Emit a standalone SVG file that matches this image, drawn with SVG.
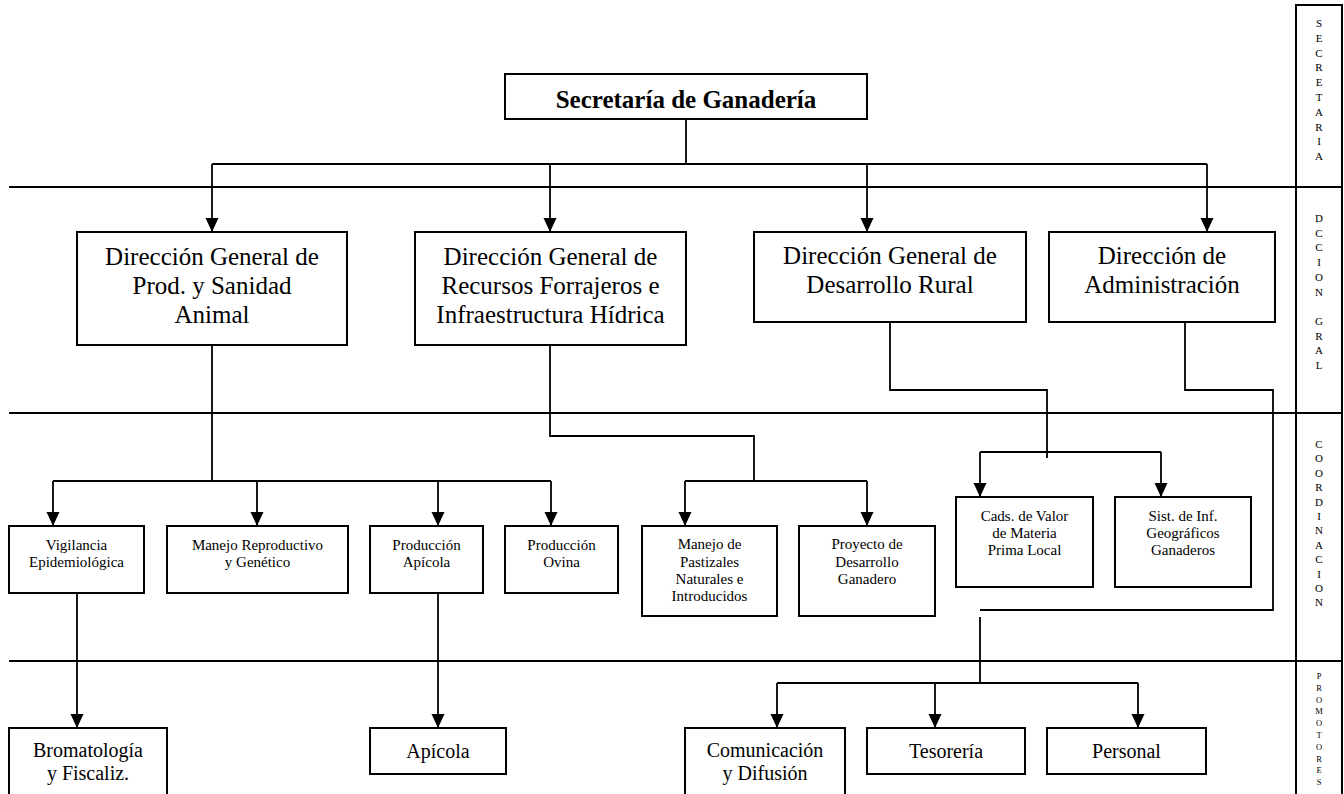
<svg xmlns="http://www.w3.org/2000/svg" width="1344" height="794" viewBox="0 0 1344 794">
<style>
.box{fill:#fff;stroke:#000;stroke-width:2}
.band{stroke:#000;stroke-width:2;fill:none}
.con{stroke:#000;stroke-width:1.8;fill:none}
.arr{marker-end:url(#ah)}
text{font-family:"Liberation Serif","Times New Roman",serif;fill:#000;text-anchor:middle}
.t25{font-size:25px}
.t20{font-size:20px}
.t15{font-size:15px}
.title{font-size:25px;font-weight:bold}
.col{font-size:11px}
.col8{font-size:8.5px}
</style>
<defs>
<marker id="ah" viewBox="0 -7 14 14" refX="14" refY="0" markerWidth="14" markerHeight="14" markerUnits="userSpaceOnUse" orient="auto">
<path d="M0,-6.5 L14,0 L0,6.5 z" fill="#000"/>
</marker>
</defs>
<rect width="1344" height="794" fill="#fff"/>

<g id="bands">
<line class="band" x1="9" y1="187" x2="1342" y2="187"/>
<line class="band" x1="9" y1="413" x2="1342" y2="413"/>
<line class="band" x1="9" y1="661" x2="1342" y2="661"/>
<path class="band" d="M1296,794 V5 H1342 V794"/>
</g>

<g id="levels">
<text class="col"><tspan x="1319" y="27">S</tspan><tspan x="1319" y="41.8">E</tspan><tspan x="1319" y="56.6">C</tspan><tspan x="1319" y="71.4">R</tspan><tspan x="1319" y="86.2">E</tspan><tspan x="1319" y="101">T</tspan><tspan x="1319" y="115.8">A</tspan><tspan x="1319" y="130.6">R</tspan><tspan x="1319" y="145.4">I</tspan><tspan x="1319" y="160.2">A</tspan></text>
<text class="col"><tspan x="1319" y="222">D</tspan><tspan x="1319" y="236.7">C</tspan><tspan x="1319" y="251.4">C</tspan><tspan x="1319" y="266.1">I</tspan><tspan x="1319" y="280.8">O</tspan><tspan x="1319" y="295.5">N</tspan><tspan x="1319" y="324.9">G</tspan><tspan x="1319" y="339.6">R</tspan><tspan x="1319" y="354.3">A</tspan><tspan x="1319" y="369">L</tspan></text>
<text class="col"><tspan x="1319" y="448">C</tspan><tspan x="1319" y="462.4">O</tspan><tspan x="1319" y="476.8">O</tspan><tspan x="1319" y="491.2">R</tspan><tspan x="1319" y="505.6">D</tspan><tspan x="1319" y="520">I</tspan><tspan x="1319" y="534.4">N</tspan><tspan x="1319" y="548.8">A</tspan><tspan x="1319" y="563.2">C</tspan><tspan x="1319" y="577.6">I</tspan><tspan x="1319" y="592">O</tspan><tspan x="1319" y="606.4">N</tspan></text>
<text class="col8"><tspan x="1319" y="679">P</tspan><tspan x="1319" y="690.8">R</tspan><tspan x="1319" y="702.6">O</tspan><tspan x="1319" y="714.4">M</tspan><tspan x="1319" y="726.2">O</tspan><tspan x="1319" y="738">T</tspan><tspan x="1319" y="749.8">O</tspan><tspan x="1319" y="761.6">R</tspan><tspan x="1319" y="773.4">E</tspan><tspan x="1319" y="785.2">S</tspan></text>
</g>

<g id="connectors">
<path class="con" d="M686,119 V164 M212,164 H1207"/>
<path class="con arr" d="M212,164 V232"/>
<path class="con arr" d="M550,164 V232"/>
<path class="con arr" d="M867,164 V232"/>
<path class="con arr" d="M1207,164 V232"/>

<path class="con" d="M212,345 V481 M53,481 H551"/>
<path class="con arr" d="M53,481 V526"/>
<path class="con arr" d="M257,481 V526"/>
<path class="con arr" d="M438,481 V526"/>
<path class="con arr" d="M551,481 V526"/>
<path class="con arr" d="M77,593 V728"/>
<path class="con arr" d="M438,593 V728"/>

<path class="con" d="M550,345 V436 H754 V481 M685,481 H867"/>
<path class="con arr" d="M685,481 V526"/>
<path class="con arr" d="M867,481 V526"/>

<path class="con" d="M890,322 V390 H1047 V458 M980,452 H1161"/>
<path class="con arr" d="M980,452 V497"/>
<path class="con arr" d="M1161,452 V497"/>

<path class="con" d="M1185,322 V390 H1273 V610 H980 M980,617 V683 M777,683 H1138"/>
<path class="con arr" d="M777,683 V728"/>
<path class="con arr" d="M935,683 V728"/>
<path class="con arr" d="M1138,683 V728"/>
</g>

<g id="secretaria">
<rect class="box" x="505" y="74" width="362" height="45"/>
<text class="title" x="686" y="108">Secretaría de Ganadería</text>
</g>

<g id="dg-prod-sanidad">
<rect class="box" x="77" y="232" width="270" height="113"/>
<text class="t25" x="212" y="265">Dirección General de</text>
<text class="t25" x="212" y="294">Prod. y Sanidad</text>
<text class="t25" x="212" y="323">Animal</text>
</g>

<g id="dg-recursos">
<rect class="box" x="415" y="232" width="271" height="113"/>
<text class="t25" x="550.5" y="265">Dirección General de</text>
<text class="t25" x="550.5" y="294">Recursos Forrajeros e</text>
<text class="t25" x="550.5" y="323">Infraestructura Hídrica</text>
</g>

<g id="dg-desarrollo">
<rect class="box" x="754" y="232" width="272" height="90"/>
<text class="t25" x="890" y="264">Dirección General de</text>
<text class="t25" x="890" y="293">Desarrollo Rural</text>
</g>

<g id="d-administracion">
<rect class="box" x="1049" y="232" width="226" height="90"/>
<text class="t25" x="1162" y="264">Dirección de</text>
<text class="t25" x="1162" y="293">Administración</text>
</g>

<g id="vigilancia">
<rect class="box" x="9" y="526" width="135" height="67"/>
<text class="t15" x="76.5" y="550">Vigilancia</text>
<text class="t15" x="76.5" y="567">Epidemiológica</text>
</g>

<g id="manejo-reproductivo">
<rect class="box" x="167" y="526" width="181" height="67"/>
<text class="t15" x="257.5" y="550">Manejo Reproductivo</text>
<text class="t15" x="257.5" y="567">y Genético</text>
</g>

<g id="produccion-apicola">
<rect class="box" x="370" y="526" width="113" height="67"/>
<text class="t15" x="426.5" y="550">Producción</text>
<text class="t15" x="426.5" y="567">Apícola</text>
</g>

<g id="produccion-ovina">
<rect class="box" x="505" y="526" width="113" height="67"/>
<text class="t15" x="561.5" y="550">Producción</text>
<text class="t15" x="561.5" y="567">Ovina</text>
</g>

<g id="manejo-pastizales">
<rect class="box" x="642" y="526" width="135" height="90"/>
<text class="t15" x="709.5" y="549">Manejo de</text>
<text class="t15" x="709.5" y="567">Pastizales</text>
<text class="t15" x="709.5" y="584">Naturales e</text>
<text class="t15" x="709.5" y="601">Introducidos</text>
</g>

<g id="proyecto-desarrollo">
<rect class="box" x="799" y="526" width="136" height="90"/>
<text class="t15" x="867" y="549">Proyecto de</text>
<text class="t15" x="867" y="567">Desarrollo</text>
<text class="t15" x="867" y="584">Ganadero</text>
</g>

<g id="cadenas-valor">
<rect class="box" x="956" y="497" width="137" height="90"/>
<text class="t15" x="1024.5" y="521">Cads. de Valor</text>
<text class="t15" x="1024.5" y="538">de Materia</text>
<text class="t15" x="1024.5" y="555">Prima Local</text>
</g>

<g id="sist-informacion">
<rect class="box" x="1115" y="497" width="136" height="90"/>
<text class="t15" x="1183" y="521">Sist. de Inf.</text>
<text class="t15" x="1183" y="538">Geográficos</text>
<text class="t15" x="1183" y="555">Ganaderos</text>
</g>

<g id="bromatologia">
<rect class="box" x="9" y="728" width="158" height="80"/>
<text class="t20" x="88" y="757">Bromatología</text>
<text class="t20" x="88" y="780">y Fiscaliz.</text>
</g>

<g id="apicola">
<rect class="box" x="370" y="728" width="136" height="46"/>
<text class="t20" x="438" y="758">Apícola</text>
</g>

<g id="comunicacion">
<rect class="box" x="685" y="728" width="160" height="80"/>
<text class="t20" x="765" y="757">Comunicación</text>
<text class="t20" x="765" y="780">y Difusión</text>
</g>

<g id="tesoreria">
<rect class="box" x="867" y="728" width="158" height="46"/>
<text class="t20" x="946" y="758">Tesorería</text>
</g>

<g id="personal">
<rect class="box" x="1047" y="728" width="159" height="46"/>
<text class="t20" x="1126.5" y="758">Personal</text>
</g>
</svg>
